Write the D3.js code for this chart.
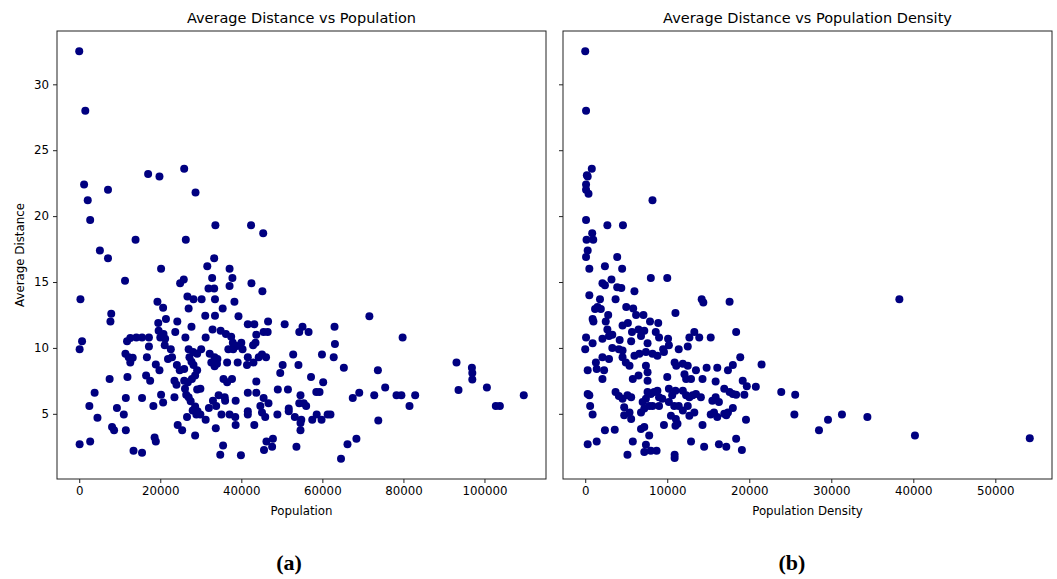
<!DOCTYPE html>
<html>
<head>
<meta charset="utf-8">
<script src="https://cdn.jsdelivr.net/npm/d3@7"></script>
<style>
  body { margin: 0; background: #fff; }
  text { font-family: "DejaVu Sans", sans-serif; fill: #000; }
  .tick text { font-size: 11.8px; }
  .tick line, .domain { stroke: #222; }
</style>
</head>
<body>
<div id="chart"></div>
<script>
// [population, average distance]
const populationPoints = [
  [0,32.5],[1500,28.0],
  [1200,22.4],[7100,22.0],[2100,21.2],[2700,19.7],[17000,23.2],[19800,23.0],[25900,23.6],[28700,21.8],[33600,19.3],[13900,18.2],[26300,18.2],[5100,17.4],[7100,16.8],[20200,16.0],[11300,15.1],
  [33300,16.8],[31600,16.2],[37100,16.0],[32800,15.3],[37800,15.3],[31900,14.5],[33300,14.5],[37100,14.7],[25800,15.2],[24900,14.9],
  [300,13.7],[19300,13.5],[20700,13.05],[26700,13.9],[28200,13.7],[30200,13.7],[27000,13.0],[33500,13.7],[35400,13.0],[31100,12.45],[33500,12.45],
  [7900,12.6],[7700,12.0],[24200,12.0],[19500,11.9],[21400,12.2],[27700,11.6],[32900,11.4],[23700,11.2],[19600,11.3],[20800,11.05],[20000,10.8],[21200,10.7],[26200,10.8],[31200,10.8],[34900,11.3],[36200,11.05],[37500,10.85],[37900,10.4],
  [700,10.5],[100,9.9],[11800,10.5],[12600,10.75],[14100,10.8],[15500,10.8],[17200,10.8],[17200,10.1],[21100,10.2],[22600,9.9],[21900,9.15],[22900,9.3],
  [27000,9.9],[28100,9.7],[29100,9.55],[30100,9.9],[27200,9.3],[27700,8.95],[32200,9.55],[33400,9.3],[34100,9.15],[34000,8.8],[33400,8.6],[32600,8.9],[36800,9.9],[38000,9.9],[38900,10.15],
  [11400,9.55],[12200,9.3],[12600,8.9],[13200,9.25],[16700,9.3],[18900,8.75],[19800,8.3],[24100,8.7],[24800,8.3],[25900,8.4],[28200,8.7],[29100,8.3],[28600,7.9],[27800,7.65],[26800,7.4],[25900,7.5],[23500,7.5],[24000,7.2],
  [7500,7.65],[11900,7.8],[16500,7.9],[17500,7.5],[29900,6.9],[29100,6.85],[26100,6.9],[26400,6.45],[27000,6.25],[27500,5.95],[20200,6.45],[20700,5.85],[18300,5.6],[15500,6.2],[11500,6.2],
  [3800,6.6],[2500,5.6],[4500,4.7],[9300,5.45],[11000,4.95],[23500,6.25],[28600,5.55],[28000,5.25],[29200,5.2],[29900,4.95],[28900,4.95],[26600,4.75],[31200,4.55],[32000,5.45],
  [33000,6.0],[34400,6.4],[35900,6.25],[36000,6.0],[33800,5.6],[35100,4.95],[37100,4.95],[33700,3.9],[24300,4.15],[25400,3.75],[28600,3.35],[8100,4.0],[8600,3.75],[11500,3.75],
  [100,2.7],[2700,2.9],[13400,2.2],[15500,2.05],[18600,3.2],[18900,2.9],[35500,2.6],[34800,1.9],[35600,7.65],[36500,7.4],[36500,8.9],
  [42400,19.3],[45400,18.7],[42500,14.9],[45200,14.3],[38300,13.5],[39300,12.4],[41600,11.8],[43200,11.8],[46600,12.0],[50700,11.8],[55100,11.6],[54300,11.2],[56600,11.2],[63000,11.6],[43700,11.0],[45500,11.2],[46500,11.2],
  [40000,10.4],[40300,9.9],[42900,10.2],[43500,10.4],[39100,8.9],[41600,9.3],[41400,8.7],[43000,8.9],[44300,9.3],[45100,9.5],[46100,9.3],[52800,9.5],[50200,8.7],[49600,8.1],[54100,8.7],[59900,9.5],[62800,9.3],[63100,10.3],
  [37700,7.65],[38600,6.0],[41600,6.6],[43700,6.6],[43700,7.45],[45500,6.2],[46700,5.8],[44700,5.6],[45100,5.1],[45900,4.75],[41600,5.2],[41600,4.95],[38500,4.75],[38600,4.15],[43200,4.15],[48900,4.95],
  [49000,6.85],[51500,6.85],[57200,7.8],[60200,7.4],[54600,6.4],[54300,5.8],[55400,5.8],[56000,5.6],[51700,5.4],[51700,5.2],[53200,4.75],[54800,4.55],[54600,4.3],[57500,4.55],[58600,4.95],[59800,4.55],[61300,4.95],[62000,4.95],[58500,6.65],[59300,6.65],[54600,3.75],
  [46200,2.9],[47800,3.1],[45600,2.25],[47600,2.5],[53600,2.5],[39900,1.85],
  [71600,12.4],[79800,10.8],[65300,8.5],[73700,8.3],[93100,8.9],[96900,8.5],[97000,8.1],[97000,7.6],[100600,7.0],[93600,6.8],[109700,6.4],[102800,5.6],[103800,5.6],[75500,7.0],[72800,6.4],[78300,6.4],[79500,6.4],[82900,6.4],[81500,5.6],[73800,4.5],[67500,6.2],[69100,6.6],[68400,3.1],[66200,2.7],[64600,1.6]
];

// [population density, average distance]
const densityPoints = [
  [0,32.5],[100,28.0],[800,23.6],[200,23.1],[300,23.0],[100,22.4],[100,22.0],[400,21.7],[8200,21.2],[100,19.7],[2700,19.3],[4600,19.3],[850,18.7],[980,18.2],[160,18.2],[300,17.4],[100,16.9],[3900,16.9],
  [500,16.0],[2400,16.2],[4500,16.0],[8000,15.3],[10000,15.3],[2100,14.9],[2400,14.75],[3200,15.2],[3900,14.6],[4400,14.55],[6000,14.3],[500,14.0],[1800,13.7],[3700,13.7],[1500,13.1],[1200,12.95],[1900,12.95],[5000,13.1],[5850,13.0],[900,12.2],[1000,12.0],[2800,12.5],[2500,12.0],
  [6200,12.5],[7100,12.5],[7900,12.0],[8900,11.9],[11000,12.65],[4550,11.7],[5200,11.9],[5700,11.2],[6500,11.4],[7200,11.3],[2700,11.4],[2900,10.9],[2100,10.7],[3300,11.0],[100,10.8],[0,9.9],[900,10.35],[4200,10.6],[5600,10.5],[6800,10.9],[7600,10.35],[8600,11.2],[9000,10.8],[10100,10.7],[10200,10.2],[9500,9.9],[11400,9.9],[12500,10.1],[13300,11.2],[12700,10.8],
  [3300,10.0],[4100,9.9],[4550,9.8],[6000,9.4],[6600,9.55],[7400,9.7],[8200,9.55],[8800,9.4],[9600,9.7],[2100,9.3],[2900,9.15],[1300,8.9],[300,8.3],[1400,8.4],[2100,7.65],[2300,8.3],[4550,9.3],[4950,8.9],[5400,8.65],[7400,8.65],[7600,8.15],[5800,7.65],[6500,7.9],[7600,7.5],[10000,7.8],[10900,8.9],[11100,8.65],[11900,8.8],[12500,8.65],[12100,8.0],[12300,7.65],[12900,7.65],[13500,8.3],
  [300,6.5],[500,6.4],[600,5.6],[900,4.95],[3700,6.65],[4100,6.35],[4550,6.15],[5150,6.4],[5600,6.25],[4750,5.5],[4750,4.9],[5400,5.1],[5600,4.6],[6800,5.1],[7000,5.9],[7400,6.15],[7200,5.4],
  [7600,6.65],[8000,6.5],[8400,6.65],[8800,6.75],[9000,6.25],[9400,6.15],[9000,5.6],[8200,5.6],[7800,5.6],[10200,6.9],[10600,6.4],[11000,6.75],[10200,5.9],[10850,5.6],[11900,6.75],[12300,6.4],[12700,6.25],[13100,6.4],[13500,6.5],
  [11400,5.6],[11900,5.25],[12500,5.6],[12700,4.85],[13300,5.1],[10450,4.85],[11050,4.6],[11250,4.25],[11000,4.1],
  [9600,4.15],[6800,3.85],[7200,4.0],[7800,3.35],[2400,3.75],[3600,3.8],[300,2.7],[1400,2.9],[5800,2.9],[7400,2.65],[7200,2.1],[8000,2.2],[8700,2.2],[5150,1.9],[10900,1.9],[10900,1.65],[12900,2.9],
  [14200,13.7],[14400,13.45],[17600,13.5],[13900,10.8],[15300,10.8],[18400,11.2],[18900,9.3],[21500,8.75],[14800,8.5],[16100,8.5],[17400,8.3],[18000,8.7],[14300,7.65],[15900,7.45],[19200,7.5],[19700,7.1],[20800,7.05],[19400,6.45],[18000,6.5],[16950,6.9],[17600,6.65],[18400,6.45],[14100,6.25],[15500,6.0],[15900,6.25],[16300,5.9],
  [15300,4.95],[15700,5.1],[16100,4.75],[16950,5.0],[17400,5.1],[18000,5.45],[17200,4.9],[19600,4.55],[14300,4.15],[14500,2.5],[16300,2.7],[17200,2.5],[18400,3.1],[19100,2.25],[23900,6.65],[25600,6.45],[25500,4.95],[28500,3.75],
  [38300,13.7],[29600,4.55],[31300,4.95],[34400,4.75],[40200,3.35],[54200,3.15]
];

const popTicks = [0, 20000, 40000, 60000, 80000, 100000];
const densityTicks = [0, 10000, 20000, 30000, 40000, 50000];
const distanceTicks = [5, 10, 15, 20, 25, 30];

const width = 1057, height = 579;
const plotTop = 31, plotBottom = 479;
const dotColor = '#000080';

const svg = d3.select('#chart').append('svg')
  .attr('width', width)
  .attr('height', height);

// 5% margins like matplotlib
function padded(ext) {
  const r = ext[1] - ext[0];
  return [ext[0] - r * 0.05, ext[1] + r * 0.05];
}

const allDist = populationPoints.concat(densityPoints).map(d => d[1]);
const y = d3.scaleLinear()
  .domain(padded(d3.extent(allDist)))
  .range([plotBottom, plotTop]);

function drawPanel(points, left, right, xTicks, title, xLabel, showYLabels, caption, captionX) {
  const x = d3.scaleLinear()
    .domain(padded(d3.extent(points, d => d[0])))
    .range([left, right]);

  const g = svg.append('g');

  // eixos
  g.append('g')
    .attr('transform', `translate(0,${plotBottom})`)
    .call(d3.axisBottom(x).tickValues(xTicks).tickFormat(d3.format('d')).tickSize(4).tickPadding(4))
    .call(a => a.select('.domain').remove());

  g.append('g')
    .attr('transform', `translate(${left},0)`)
    .call(d3.axisLeft(y).tickValues(distanceTicks).tickSize(4).tickPadding(4)
      .tickFormat(showYLabels ? d3.format('d') : ''))
    .call(a => a.select('.domain').remove());

  // pontos
  g.selectAll('circle')
    .data(points)
    .enter()
    .append('circle')
    .attr('cx', d => x(d[0]))
    .attr('cy', d => y(d[1]))
    .attr('r', 4)
    .attr('fill', dotColor);

  // moldura
  g.append('rect')
    .attr('x', left)
    .attr('y', plotTop)
    .attr('width', right - left)
    .attr('height', plotBottom - plotTop)
    .attr('fill', 'none')
    .attr('stroke', '#222')
    .attr('stroke-width', 1);

  g.append('text')
    .attr('x', (left + right) / 2)
    .attr('y', 23)
    .attr('text-anchor', 'middle')
    .style('font-size', '14.5px')
    .text(title);

  g.append('text')
    .attr('x', (left + right) / 2)
    .attr('y', 515)
    .attr('text-anchor', 'middle')
    .style('font-size', '11.8px')
    .text(xLabel);

  g.append('text')
    .attr('x', captionX)
    .attr('y', 570)
    .attr('text-anchor', 'middle')
    .style('font-family', '"Liberation Serif", serif')
    .style('font-weight', 'bold')
    .style('font-size', '22px')
    .text(caption);
}

drawPanel(populationPoints, 57, 546, popTicks,
  'Average Distance vs Population', 'Population', true, '(a)', 289);
drawPanel(densityPoints, 563, 1052, densityTicks,
  'Average Distance vs Population Density', 'Population Density', false, '(b)', 792);

svg.append('text')
  .attr('transform', `translate(24,${(plotTop + plotBottom) / 2}) rotate(-90)`)
  .attr('text-anchor', 'middle')
  .style('font-size', '11.8px')
  .text('Average Distance');
</script>
</body>
</html>
